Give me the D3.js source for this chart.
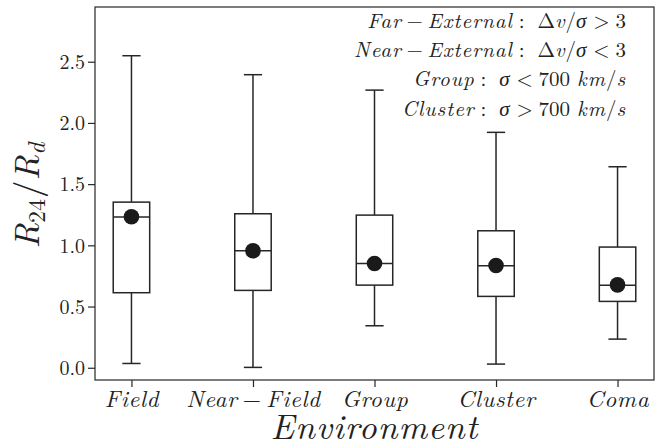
<!DOCTYPE html>
<html><head><meta charset="utf-8">
<script src="https://cdn.jsdelivr.net/npm/d3@7"></script>
<style>body{margin:0;background:#fff}svg{display:block}</style>
</head><body><svg id="c" width="663" height="448"></svg>
<script>
// ---- data ----
const categories = ["Field", "Near − Field", "Group", "Cluster", "Coma"];
const whiskerLow  = [0.035, 0.003, 0.343, 0.030, 0.234];
const q1          = [0.613, 0.632, 0.675, 0.583, 0.542];
const median      = [1.231, 0.956, 0.852, 0.833, 0.675];
const q3          = [1.353, 1.258, 1.247, 1.119, 0.986];
const whiskerHigh = [2.549, 2.394, 2.268, 1.923, 1.642];
const mean        = [1.233, 0.956, 0.852, 0.835, 0.677];
const yTicks = [0, 0.5, 1.0, 1.5, 2.0, 2.5];
// "~" = explicit math space
const notes = [
  "Far − External :~Δv/σ > 3",
  "Near − External :~Δv/σ < 3",
  "Group :~σ < 700~km/s",
  "Cluster :~σ > 700~km/s"
];

const data = categories.map((c, i) => ({c, lo: whiskerLow[i], q1: q1[i], med: median[i], q3: q3[i], hi: whiskerHigh[i], mean: mean[i]}));

const svg = d3.select("#c");
const L = 95, R = 654, T = 7, B = 380;
const FONT = '"Latin Modern Roman", "CMU Serif", "Liberation Serif", serif';
const ink = "#262626";

// TeX-like math layout into tspans
function mathText(t, str, size, ls) {
  const toks = [];
  let pending = 0, cur = null;
  for (const ch of str) {
    if (ch === " ") continue;
    if (ch === "~") { pending += 0.333 * size; cur = null; continue; }
    const cls = "−+".includes(ch) ? "bin" : ":<>=".includes(ch) ? "rel" : "ord";
    const italic = /[A-Za-zσ]/.test(ch);
    if (cls !== "ord") {
      const sp = (cls === "bin" ? 0.222 : 0.278) * size;
      toks.push({s: ch, it: false, dx: pending + sp});
      pending = sp; cur = null;
    } else if (cur && cur.it === italic && pending === 0) {
      cur.s += ch;
    } else {
      cur = {s: ch, it: italic, dx: pending}; toks.push(cur); pending = 0;
    }
  }
  toks.forEach(tk => t.append("tspan").attr("dx", tk.dx)
    .style("font-style", tk.it ? "italic" : "normal")
    .style("letter-spacing", (tk.it ? ls : 0) + "px").text(tk.s));
}

const x = d3.scalePoint().domain(categories).range([L, R]).padding(0.3);
const y = d3.scaleLinear().domain([-0.1, 2.947]).range([B, T]);
const bw = x.step() * 0.3;

// frame
svg.append("rect").attr("x", L).attr("y", T).attr("width", R - L).attr("height", B - T)
  .attr("fill", "none").attr("stroke", ink).attr("stroke-width", 1.2);

// y axis
const yAxis = svg.append("g").attr("transform", `translate(${L},0)`)
  .call(d3.axisLeft(y).tickValues(yTicks).tickFormat(d3.format(".1f")).tickSize(7).tickPadding(3));
yAxis.select(".domain").remove();
yAxis.selectAll("line").attr("stroke", ink).attr("stroke-width", 1.2);
yAxis.selectAll("text").style("font-family", FONT).style("font-size", "20px").attr("fill", "#222").attr("dy", "0.34em");

// x axis
const xAxis = svg.append("g").attr("transform", `translate(0,${B})`)
  .call(d3.axisBottom(x).tickSize(7).tickFormat(""));
xAxis.select(".domain").remove();
xAxis.selectAll("line").attr("stroke", ink).attr("stroke-width", 1.2);
xAxis.selectAll(".tick").each(function(d) {
  const t = d3.select(this).append("text").attr("y", 27).attr("text-anchor", "middle")
    .style("font-family", FONT).style("font-size", "23.5px").attr("fill", "#222");
  mathText(t, d, 23.5, 0.6);
});

// boxes
const box = svg.append("g").selectAll("g.box").data(data).join("g").attr("class", "box");
box.append("line").attr("x1", d => x(d.c)).attr("x2", d => x(d.c)).attr("y1", d => y(d.hi)).attr("y2", d => y(d.q3));
box.append("line").attr("x1", d => x(d.c)).attr("x2", d => x(d.c)).attr("y1", d => y(d.q1)).attr("y2", d => y(d.lo));
box.append("line").attr("x1", d => x(d.c) - bw / 4).attr("x2", d => x(d.c) + bw / 4).attr("y1", d => y(d.hi)).attr("y2", d => y(d.hi));
box.append("line").attr("x1", d => x(d.c) - bw / 4).attr("x2", d => x(d.c) + bw / 4).attr("y1", d => y(d.lo)).attr("y2", d => y(d.lo));
box.append("rect").attr("x", d => x(d.c) - bw / 2).attr("width", bw)
  .attr("y", d => y(d.q3)).attr("height", d => y(d.q1) - y(d.q3)).attr("fill", "#fff");
box.append("line").attr("x1", d => x(d.c) - bw / 2).attr("x2", d => x(d.c) + bw / 2).attr("y1", d => y(d.med)).attr("y2", d => y(d.med));
box.selectAll("line, rect").attr("stroke", ink).attr("stroke-width", 1.5);
box.append("circle").attr("cx", d => x(d.c)).attr("cy", d => y(d.mean)).attr("r", 7.8).attr("fill", "#1a1a1a");

// notes
notes.forEach((s, i) => {
  const t = svg.append("text").attr("x", 626).attr("y", 28 + i * 29.2).attr("text-anchor", "end")
    .style("font-family", FONT).style("font-size", "21px").attr("fill", "#222");
  mathText(t, s, 21, 1.0);
});

// y label
const yl = svg.append("text").attr("transform", `translate(39,${(T + B) / 2 + 2}) rotate(-90)`)
  .attr("text-anchor", "middle").style("font-family", FONT).style("font-size", "35px").attr("fill", "#222");
yl.append("tspan").style("font-style", "italic").text("R");
yl.append("tspan").style("font-size", "24px").attr("dy", 6).text("24");
yl.append("tspan").attr("dy", -6).attr("dx", 1).text("/");
yl.append("tspan").style("font-style", "italic").text("R");
yl.append("tspan").style("font-size", "24px").style("font-style", "italic").attr("dy", 6).text("d");

// x label
svg.append("text").attr("x", (L + R) / 2).attr("y", 439).attr("text-anchor", "middle")
  .style("font-family", FONT).style("font-size", "35px").style("font-style", "italic").style("letter-spacing", "1px")
  .attr("fill", "#222").text("Environment");
</script></body></html>
